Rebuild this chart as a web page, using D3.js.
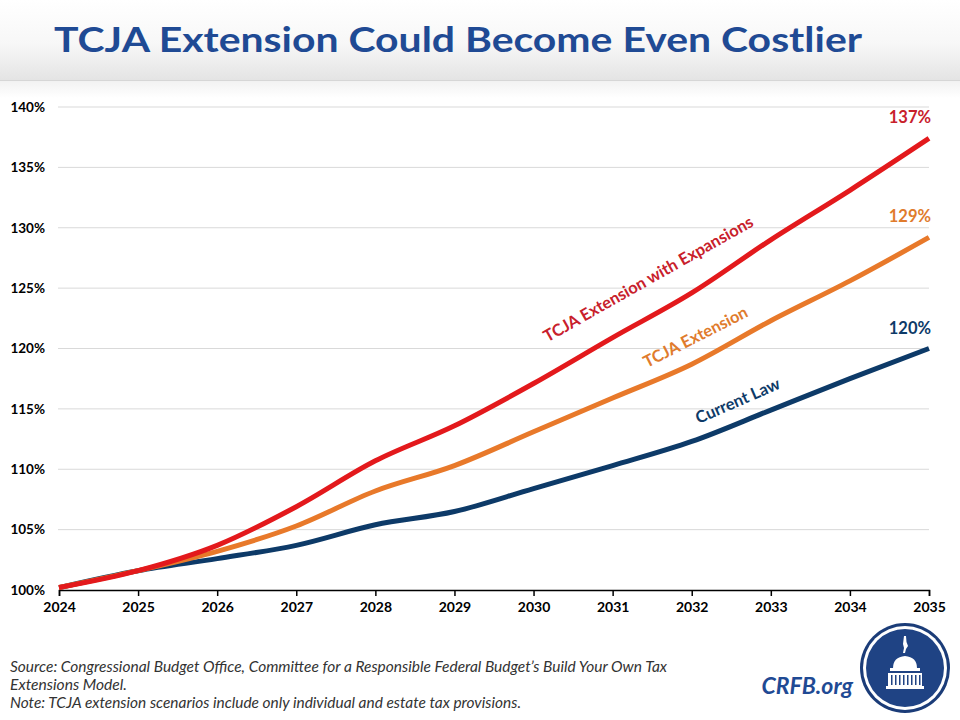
<!DOCTYPE html>
<html>
<head>
<meta charset="utf-8">
<script src="https://cdn.jsdelivr.net/npm/d3@7"></script>
<style>
  body { margin: 0; background: #fff; }
  svg { display: block; }
</style>
</head>
<body>
<div id="chart"></div>
<script>
// data
var years = [2024, 2025, 2026, 2027, 2028, 2029, 2030, 2031, 2032, 2033, 2034, 2035];
var currentLaw = [100.2, 101.6, 102.6, 103.7, 105.4, 106.5, 108.4, 110.3, 112.3, 114.9, 117.5, 120.0];
var tcjaExt = [100.2, 101.6, 103.2, 105.3, 108.2, 110.3, 113.1, 115.9, 118.7, 122.3, 125.6, 129.2];
var tcjaExpand = [100.2, 101.6, 103.7, 106.9, 110.7, 113.6, 117.1, 120.9, 124.6, 129.0, 133.1, 137.4];
var yTicks = [100, 105, 110, 115, 120, 125, 130, 135, 140];

var W = 960, H = 720;
var fontFamily = "Lato, 'Open Sans', sans-serif";

var svg = d3.select("#chart").append("svg")
  .attr("width", W)
  .attr("height", H);

// header background
var defs = svg.append("defs");
var grad = defs.append("linearGradient").attr("id", "hdr").attr("x1", 0).attr("y1", 0).attr("x2", 0).attr("y2", 1);
grad.append("stop").attr("offset", "0%").attr("stop-color", "#ffffff");
grad.append("stop").attr("offset", "55%").attr("stop-color", "#f7f7f7");
grad.append("stop").attr("offset", "100%").attr("stop-color", "#e4e4e4");
var grad2 = defs.append("linearGradient").attr("id", "hdr2").attr("x1", 0).attr("y1", 0).attr("x2", 0).attr("y2", 1);
grad2.append("stop").attr("offset", "0%").attr("stop-color", "#f1f1f1");
grad2.append("stop").attr("offset", "100%").attr("stop-color", "#ffffff");

svg.append("rect").attr("x", 0).attr("y", 0).attr("width", W).attr("height", 80).attr("fill", "url(#hdr)");
svg.append("rect").attr("x", 0).attr("y", 80).attr("width", W).attr("height", 18).attr("fill", "url(#hdr2)");
svg.append("line").attr("x1", 0).attr("x2", W).attr("y1", 80.5).attr("y2", 80.5)
  .attr("stroke", "#d6d6d6").attr("stroke-width", 1);

svg.append("text")
  .attr("x", 458)
  .attr("y", 52)
  .attr("font-family", fontFamily)
  .attr("font-weight", "bold")
  .attr("font-size", 35)
  .attr("fill", "#1f4a94")
  .attr("text-anchor", "middle")
  .attr("textLength", 808)
  .attr("lengthAdjust", "spacingAndGlyphs")
  .text("TCJA Extension Could Become Even Costlier");

// scales
var x = d3.scaleLinear().domain([2024, 2035]).range([59, 929]);
var y = d3.scaleLinear().domain([100, 140]).range([590, 107]);

// grid
svg.append("g").selectAll("line")
  .data(yTicks.slice(1))
  .enter().append("line")
  .attr("x1", 58).attr("x2", 929)
  .attr("y1", function(d){ return y(d); })
  .attr("y2", function(d){ return y(d); })
  .attr("stroke", "#d9d9d9")
  .attr("stroke-width", 1);

// y labels
var yAxis = svg.append("g")
  .attr("transform", "translate(45,0)")
  .call(d3.axisLeft(y).tickValues(yTicks).tickSize(0).tickPadding(0)
    .tickFormat(function(d){ return d + "%"; }));
yAxis.select(".domain").remove();
yAxis.selectAll("text")
  .attr("font-family", fontFamily)
  .attr("font-weight", "bold")
  .attr("font-size", 13.5)
  .attr("fill", "#000");

// x axis
var xAxis = svg.append("g")
  .attr("transform", "translate(0,590)")
  .call(d3.axisBottom(x).tickValues(years).tickSize(6).tickPadding(6)
    .tickFormat(d3.format("d")));
xAxis.select(".domain").attr("d", "M59.5,6V0.5H929.5V6").attr("stroke", "#000").attr("stroke-width", 1.5);
xAxis.selectAll(".tick line").attr("stroke", "#000").attr("stroke-width", 1.5);
xAxis.selectAll("text")
  .attr("font-family", fontFamily)
  .attr("font-weight", "bold")
  .attr("font-size", 14)
  .attr("fill", "#000");

// lines
var line = d3.line()
  .x(function(d, i){ return x(years[i]); })
  .y(function(d){ return y(d); })
  .curve(d3.curveMonotoneX);

var series = [
  { name: "Current Law", values: currentLaw, color: "#0d3a68", text: "#0d3a68" },
  { name: "TCJA Extension", values: tcjaExt, color: "#e8792a", text: "#e07b2c" },
  { name: "TCJA Extension with Expansions", values: tcjaExpand, color: "#e3191c", text: "#c8202b" }
];

series.forEach(function(s){
  svg.append("path")
    .datum(s.values)
    .attr("d", line)
    .attr("fill", "none")
    .attr("stroke", s.color)
    .attr("stroke-width", 5)
    .attr("stroke-linejoin", "round");
});

// end labels
series.forEach(function(s){
  var last = s.values[s.values.length - 1];
  svg.append("text")
    .attr("x", x(2035) + 2)
    .attr("y", y(last) - 15)
    .attr("font-family", fontFamily)
    .attr("font-weight", "bold")
    .attr("font-size", 16.5)
    .attr("fill", s.text)
    .attr("text-anchor", "end")
    .text(Math.round(last) + "%");
});

// rotated series labels
var inlineLabels = [
  { s: series[2], cx: 651, cy: 284, angle: -29.5 },
  { s: series[1], cx: 698, cy: 342, angle: -27 },
  { s: series[0], cx: 740, cy: 406, angle: -23.5 }
];
inlineLabels.forEach(function(l){
  svg.append("text")
    .attr("transform", "translate(" + l.cx + "," + l.cy + ") rotate(" + l.angle + ")")
    .attr("font-family", fontFamily)
    .attr("font-weight", "bold")
    .attr("font-size", 16.5)
    .attr("fill", l.s.text)
    .attr("text-anchor", "middle")
    .text(l.s.name);
});

// footer notes
var notes = [
  "Source: Congressional  Budget Office, Committee for a Responsible Federal Budget\u2019s Build Your Own Tax",
  "Extensions Model.",
  "Note: TCJA extension scenarios include only individual and estate tax provisions."
];
var noteWidths = [657, 117, 511];
svg.append("g").selectAll("text")
  .data(notes)
  .enter().append("text")
  .attr("x", 10)
  .attr("y", function(d, i){ return 672 + i * 18; })
  .attr("font-family", fontFamily)
  .attr("font-style", "italic")
  .attr("font-size", 14.5)
  .attr("fill", "#333")
  .attr("textLength", function(d, i){ return noteWidths[i]; })
  .attr("lengthAdjust", "spacingAndGlyphs")
  .text(function(d){ return d; });

// CRFB logo text
svg.append("text")
  .attr("x", 853)
  .attr("y", 694)
  .attr("font-family", fontFamily)
  .attr("font-weight", "bold")
  .attr("font-style", "italic")
  .attr("font-size", 23)
  .attr("fill", "#1f4a94")
  .attr("text-anchor", "end")
  .text("CRFB.org");

// logo seal
var seal = svg.append("g").attr("transform", "translate(905,668)");
seal.append("circle").attr("r", 45).attr("fill", "#1b3c78");
seal.append("circle").attr("r", 42).attr("fill", "#fff");
seal.append("circle").attr("r", 39).attr("fill", "#1f4384");
// statue
seal.append("path")
  .attr("d", "M-1,-32 L1,-32 L1.5,-26 L3,-22 L1,-19 L0,-15 L-2,-15 L-1,-20 L-2,-24 Z")
  .attr("fill", "#fff");
// dome
seal.append("path")
  .attr("d", "M-12,0 Q-12,-11 0,-12 Q12,-11 12,0 Z")
  .attr("fill", "#fff");
seal.append("rect").attr("x", -15).attr("y", 0).attr("width", 30).attr("height", 3).attr("fill", "#fff");
seal.append("rect").attr("x", -17).attr("y", 5).attr("width", 34).attr("height", 13).attr("fill", "#fff");
seal.append("rect").attr("x", -19).attr("y", 18).attr("width", 38).attr("height", 3).attr("fill", "#fff");
seal.append("g").selectAll("rect")
  .data(d3.range(8))
  .enter().append("rect")
  .attr("x", function(d){ return -14 + d * 4; })
  .attr("y", 7)
  .attr("width", 1.5)
  .attr("height", 10)
  .attr("fill", "#1f4384");
</script>
</body>
</html>
